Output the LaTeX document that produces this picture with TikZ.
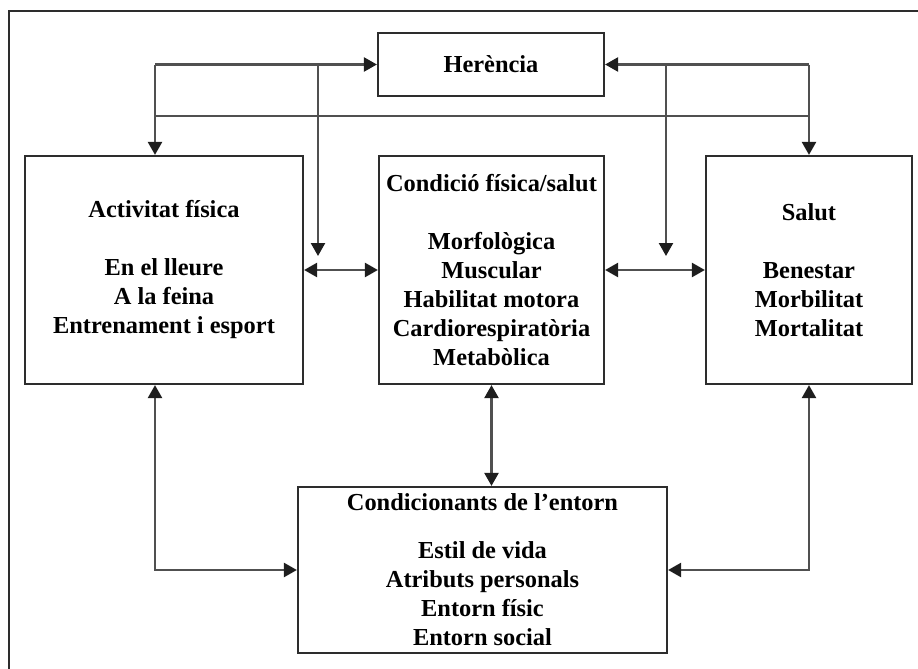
\documentclass[tikz,border=0pt]{standalone}
\usepackage{fontspec}
\setmainfont{Liberation Serif}
\usetikzlibrary{arrows.meta, positioning}
\definecolor{boxline}{RGB}{45,45,45}
\definecolor{connline}{RGB}{80,80,80}
\definecolor{tipfill}{RGB}{30,30,30}

\tikzset{
  box/.style={draw=boxline, line width=1.1pt, inner sep=0pt, align=center,
    font=\bfseries\fontsize{12.2}{14.5}\selectfont},
  conn/.style={draw=connline, line width=1.2pt},
}

\begin{document}
\begin{tikzpicture}[x=0.5pt, y=-0.5pt,
    >={Triangle[length=6.5pt, width=7pt, fill=tipfill, color=tipfill]}]
    \useasboundingbox (0,0) rectangle (918,669);

    % Frame
    \draw[boxline, line width=1.1pt] (9,669) -- (9,11) -- (918,11);

    % Boxes
    \node[box, minimum width=113pt, minimum height=31.5pt] (heren) at (491,64.5) {Herència};
    \node[box, minimum width=139pt, minimum height=114pt] (activ) at (164,270)
        {Activitat física\\[14.5pt] En el lleure\\ A la feina\\ Entrenament i esport};
    \node[box, minimum width=112.5pt, minimum height=114pt] (condic) at (491.5,270)
        {Condició física/salut\\[14.5pt] Morfològica\\ Muscular\\ Habilitat motora\\ Cardiorespiratòria\\ Metabòlica};
    \node[box, minimum width=103pt, minimum height=114pt] (salut) at (809,270)
        {Salut\\[14.5pt] Benestar\\ Morbilitat\\ Mortalitat};
    \node[box, minimum width=184.5pt, minimum height=83pt] (entorn) at (482.5,570)
        {Condicionants de l’entorn\\[9.5pt] Estil de vida\\ Atributs personals\\ Entorn físic\\ Entorn social};

    % Branch points
    \coordinate (hl) at (155,64.5);
    \coordinate (hr) at (809,64.5);
    \coordinate (ml) at (155,116);
    \coordinate (mr) at (809,116);
    \coordinate (vl) at (318,64.5);
    \coordinate (vr) at (666,64.5);
    \coordinate (vlend) at (318,256);
    \coordinate (vrend) at (666,256);
    \coordinate (bl) at (155,570);
    \coordinate (br) at (809,570);

    % Heredity links
    \draw[conn, ->] (hl) -- (heren.west);
    \draw[conn, ->] (hl) -- (activ.north -| hl);
    \draw[conn, ->] (hr) -- (heren.east);
    \draw[conn, ->] (hr) -- (salut.north);
    \draw[conn] (ml) -- (mr);
    \draw[conn, ->] (vl) -- (vlend);
    \draw[conn, ->] (vr) -- (vrend);

    % Middle row
    \draw[conn, <->] (activ.east) -- (condic.west);
    \draw[conn, <->] (condic.east) -- (salut.west);

    % Environment links
    \draw[conn, <->] (condic.south) -- (condic.south |- entorn.north);
    \draw[conn, <->] (activ.south -| bl) -- (bl) -- (entorn.west);
    \draw[conn, <->] (salut.south) -- (br) -- (entorn.east);
\end{tikzpicture}
\end{document}
